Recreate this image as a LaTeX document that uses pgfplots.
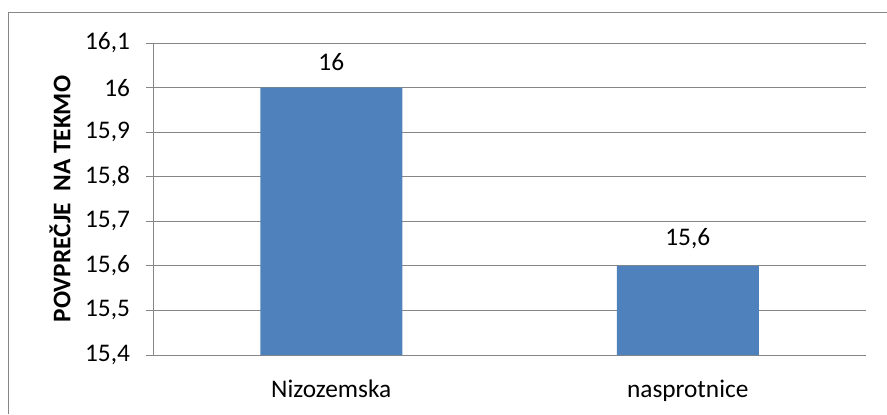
\documentclass[border=0pt]{standalone}
\usepackage{pgfplots}
\pgfplotsset{compat=1.18}
\usepackage{fontspec}
\setmainfont{Carlito}
\definecolor{barblue}{HTML}{4F81BD}
\definecolor{gridgray}{HTML}{868686}
\definecolor{framegray}{HTML}{878787}
\begin{document}
\begin{tikzpicture}[x=0.75pt,y=0.75pt]
\useasboundingbox (0,0) rectangle (887,414);
\draw[framegray,line width=0.75pt] (8,0) -- (8,401) -- (887,401);
\begin{axis}[
  at={(114.75pt,44.25pt)}, anchor=south west,
  scale only axis, width=534.75pt, height=234pt,
  xmin=-0.5, xmax=1.5, ymin=15.4, ymax=16.1,
  xtick={0,1}, xticklabels={Nizozemska,nasprotnice},
  major x tick style={draw=none},
  extra x ticks={-0.5,0.5,1.5}, extra x tick labels={},
  extra x tick style={major tick length=5.25pt, tick align=outside, grid=none, tick style={gridgray, line width=0.75pt}},
  ytick={15.4,15.5,15.6,15.7,15.8,15.9,16,16.1},
  ymajorgrids, grid style={gridgray, line width=0.75pt},
  tick align=outside, major tick length=5.25pt,
  tick style={gridgray, line width=0.75pt},
  axis x line*=bottom, axis y line*=left,
  axis line style={gridgray, line width=0.75pt, -},
  /pgf/number format/use comma,
  /pgf/number format/assume math mode=true,
  ticklabel style={font=\fontsize{19pt}{22pt}\selectfont, text=black},
  yticklabel style={xshift=-8.5pt},
  xticklabel style={yshift=-10pt},
  ylabel={\textbf{POVPREČJE\ \ NA TEKMO}},
  every axis y label/.style={at={(rel axis cs:-0.1305,0.5)}, rotate=90, anchor=center, font=\fontsize{19pt}{22pt}\selectfont},
  ybar, bar width=106.5pt, bar shift=0pt,
  nodes near coords,
  nodes near coords style={font=\fontsize{19pt}{22pt}\selectfont, text=black, yshift=9.5pt},
  clip=false,
]
\addplot[fill=barblue, draw=none] coordinates {(0,16) (1,15.6)};
\end{axis}
\end{tikzpicture}
\end{document}
